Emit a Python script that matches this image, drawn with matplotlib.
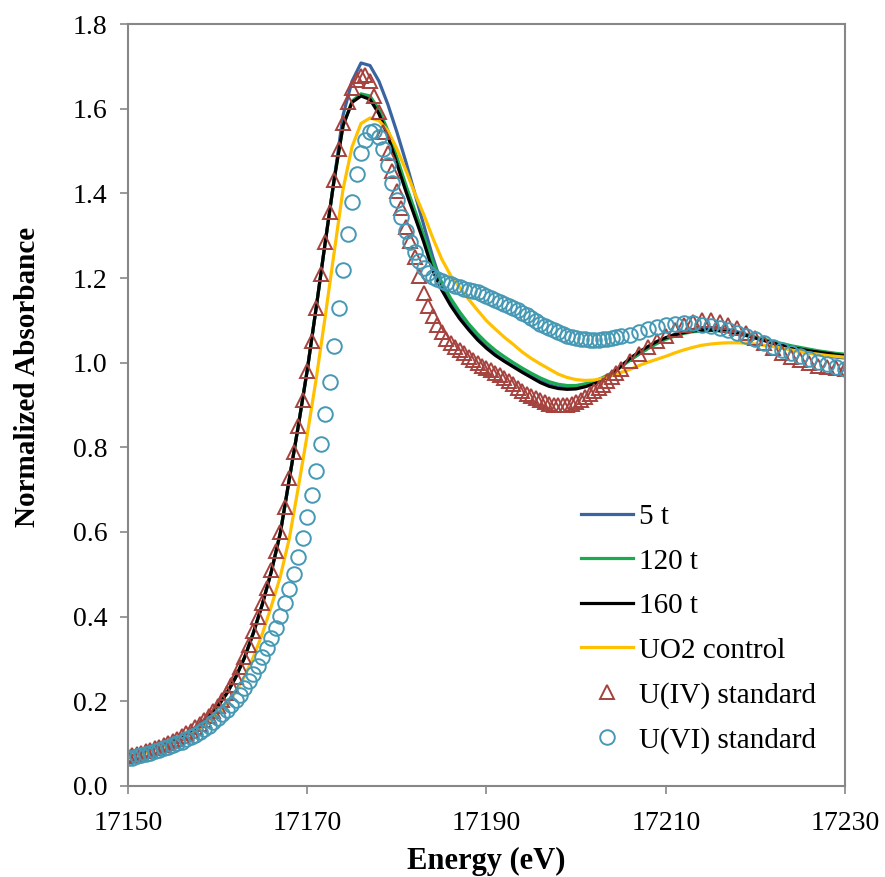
import numpy as np
import matplotlib
matplotlib.use("Agg")
import matplotlib.pyplot as plt

plt.rcParams['font.family'] = ['Liberation Serif', 'DejaVu Serif']

# energy grids (eV)
energy_lines = np.arange(17150, 17231, 1)
energy_std = np.concatenate([np.arange(17150, 17205.1, 0.5), np.arange(17206, 17231, 1)])

# samples, 1 eV grid
t5 = [0.068, 0.074, 0.080, 0.087, 0.095, 0.105, 0.116, 0.129, 0.145, 0.164,
      0.188, 0.218, 0.256, 0.303, 0.362, 0.430, 0.507, 0.598, 0.725, 0.850,
      0.982, 1.130, 1.283, 1.432, 1.585, 1.665, 1.708, 1.702, 1.665, 1.610,
      1.545, 1.475, 1.400, 1.325, 1.250, 1.185, 1.142, 1.110, 1.083, 1.059,
      1.038, 1.020, 1.005, 0.992, 0.980, 0.968, 0.957, 0.948, 0.942, 0.940,
      0.941, 0.945, 0.952, 0.962, 0.974, 0.990, 1.006, 1.020, 1.034, 1.047,
      1.058, 1.067, 1.073, 1.078, 1.081, 1.082, 1.081, 1.078, 1.073, 1.067,
      1.060, 1.053, 1.046, 1.039, 1.033, 1.028, 1.023, 1.019, 1.016, 1.013,
      1.011]
t120 = [0.068, 0.074, 0.080, 0.087, 0.095, 0.105, 0.116, 0.129, 0.145, 0.164,
        0.188, 0.218, 0.256, 0.303, 0.362, 0.430, 0.507, 0.598, 0.725, 0.850,
        0.982, 1.130, 1.283, 1.432, 1.560, 1.618, 1.635, 1.630, 1.598, 1.548,
        1.485, 1.420, 1.360, 1.300, 1.238, 1.190, 1.152, 1.120, 1.092, 1.068,
        1.047, 1.029, 1.014, 1.000, 0.987, 0.975, 0.964, 0.955, 0.949, 0.946,
        0.946, 0.950, 0.956, 0.965, 0.976, 0.991, 1.006, 1.020, 1.033, 1.045,
        1.055, 1.063, 1.069, 1.073, 1.075, 1.076, 1.075, 1.073, 1.069, 1.065,
        1.060, 1.055, 1.050, 1.045, 1.040, 1.036, 1.032, 1.028, 1.025, 1.022,
        1.020]
t160 = [0.068, 0.074, 0.080, 0.087, 0.095, 0.105, 0.116, 0.129, 0.145, 0.164,
        0.188, 0.218, 0.256, 0.303, 0.362, 0.430, 0.507, 0.598, 0.725, 0.850,
        0.982, 1.130, 1.283, 1.432, 1.560, 1.615, 1.630, 1.622, 1.588, 1.535,
        1.470, 1.405, 1.345, 1.285, 1.218, 1.172, 1.135, 1.104, 1.078, 1.054,
        1.034, 1.017, 1.003, 0.990, 0.977, 0.965, 0.953, 0.944, 0.939, 0.937,
        0.938, 0.943, 0.950, 0.960, 0.972, 0.992, 1.010, 1.025, 1.038, 1.050,
        1.059, 1.066, 1.071, 1.075, 1.077, 1.077, 1.076, 1.073, 1.069, 1.064,
        1.058, 1.052, 1.046, 1.041, 1.036, 1.032, 1.028, 1.025, 1.022, 1.019,
        1.016]
uo2_control = [0.068, 0.073, 0.079, 0.085, 0.092, 0.100, 0.110, 0.121, 0.134, 0.150,
               0.170, 0.193, 0.222, 0.258, 0.305, 0.360, 0.425, 0.495, 0.585, 0.705,
               0.830, 0.962, 1.108, 1.260, 1.410, 1.510, 1.565, 1.578, 1.572, 1.548,
               1.505, 1.455, 1.400, 1.350, 1.295, 1.245, 1.206, 1.178, 1.150, 1.124,
               1.099, 1.079, 1.060, 1.043, 1.025, 1.010, 0.997, 0.985, 0.973, 0.965,
               0.960, 0.958, 0.959, 0.963, 0.970, 0.977, 0.984, 0.993, 1.001, 1.008,
               1.015, 1.023, 1.030, 1.036, 1.041, 1.044, 1.046, 1.047, 1.047, 1.046,
               1.044, 1.041, 1.038, 1.034, 1.030, 1.026, 1.023, 1.020, 1.017, 1.015,
               1.013]

# standards, 0.5 eV grid up to 17205 then 1 eV
u4_std = [0.070, 0.073, 0.076, 0.079, 0.082, 0.086, 0.089, 0.093, 0.097, 0.102,
          0.107, 0.112, 0.118, 0.124, 0.131, 0.139, 0.147, 0.156, 0.166, 0.177,
          0.190, 0.204, 0.220, 0.238, 0.258, 0.280, 0.305, 0.334, 0.365, 0.400,
          0.432, 0.468, 0.510, 0.555, 0.600, 0.660, 0.727, 0.790, 0.850, 0.912,
          0.980, 1.052, 1.130, 1.210, 1.285, 1.357, 1.432, 1.505, 1.567, 1.615,
          1.648, 1.668, 1.678, 1.680, 1.665, 1.630, 1.592, 1.545, 1.495, 1.452,
          1.405, 1.365, 1.320, 1.288, 1.250, 1.205, 1.165, 1.135, 1.110, 1.089,
          1.072, 1.057, 1.046, 1.037, 1.030, 1.022, 1.014, 1.006, 0.999, 0.993,
          0.987, 0.982, 0.976, 0.970, 0.963, 0.956, 0.949, 0.941, 0.934, 0.927,
          0.921, 0.916, 0.911, 0.907, 0.903, 0.901, 0.899, 0.899, 0.900, 0.903,
          0.907, 0.912, 0.918, 0.925, 0.932, 0.940, 0.948, 0.957, 0.966, 0.975,
          0.985,
          1.004, 1.020, 1.036, 1.051, 1.064, 1.077, 1.089, 1.097, 1.101, 1.101,
          1.097, 1.090, 1.081, 1.071, 1.058, 1.046, 1.034, 1.024, 1.014, 1.006,
          0.999, 0.993, 0.989, 0.987, 0.985]
u6_std = [0.065, 0.067, 0.070, 0.073, 0.076, 0.079, 0.082, 0.086, 0.089, 0.093,
          0.097, 0.101, 0.105, 0.110, 0.115, 0.121, 0.127, 0.134, 0.142, 0.151,
          0.160, 0.170, 0.180, 0.191, 0.203, 0.216, 0.231, 0.247, 0.264, 0.283,
          0.304, 0.326, 0.349, 0.374, 0.401, 0.432, 0.465, 0.500, 0.540, 0.585,
          0.635, 0.688, 0.745, 0.808, 0.878, 0.955, 1.040, 1.130, 1.220, 1.305,
          1.380, 1.445, 1.495, 1.527, 1.545, 1.548, 1.532, 1.505, 1.466, 1.425,
          1.385, 1.345, 1.310, 1.285, 1.262, 1.240, 1.224, 1.212, 1.203, 1.197,
          1.192, 1.188, 1.185, 1.181, 1.178, 1.175, 1.172, 1.169, 1.166, 1.162,
          1.157, 1.152, 1.148, 1.144, 1.139, 1.135, 1.130, 1.124, 1.118, 1.112,
          1.105, 1.098, 1.092, 1.087, 1.082, 1.076, 1.072, 1.068, 1.064, 1.061,
          1.059, 1.057, 1.055, 1.054, 1.054, 1.054, 1.055, 1.056, 1.058, 1.060,
          1.062,
          1.066, 1.072, 1.079, 1.085, 1.089, 1.092, 1.093, 1.093, 1.090, 1.087,
          1.083, 1.077, 1.071, 1.063, 1.055, 1.046, 1.038, 1.030, 1.022, 1.015,
          1.008, 1.002, 0.996, 0.990, 0.985]

fig = plt.figure(figsize=(8.85, 8.77), dpi=100)
ax = fig.add_axes([0.1446, 0.1038, 0.8102, 0.8688])

ax.plot(energy_lines, t5, color='#3A64A0', lw=2.3, label='5 t')
ax.plot(energy_lines, t120, color='#1BAA50', lw=2.3, label='120 t')
ax.plot(energy_lines, t160, color='black', lw=2.3, label='160 t')
ax.plot(energy_lines, uo2_control, color='#FFC000', lw=2.3, label='UO2 control')
ax.plot(energy_std, u4_std, ls='none', marker='^', ms=10.5, mfc='none',
        mec='#A5423E', mew=1.4, label='U(IV) standard')
ax.plot(energy_std, u6_std, ls='none', marker='o', ms=10.5, mfc='none',
        mec='#4699B5', mew=1.4, label='U(VI) standard')

ax.set_xlim(17150, 17230)
ax.set_ylim(0, 1.8)
ax.set_xticks([17150, 17170, 17190, 17210, 17230])
ax.set_yticks(np.arange(0, 1.81, 0.2))
ax.set_yticklabels([f'{v:.1f}' for v in np.arange(0, 1.81, 0.2)])

for s in ax.spines.values():
    s.set_color('#878787')
    s.set_linewidth(1.5)
ax.tick_params(direction='out', length=6, width=1.2, color='#878787',
               labelsize=20, pad=9)
ax.tick_params(axis='x', pad=12)

ax.set_xlabel('Energy (eV)', fontsize=22, fontweight='bold', labelpad=8)
ax.set_ylabel('Normalized Absorbance', fontsize=21, fontweight='bold')
ax.yaxis.set_label_coords(-0.121, 0.537)

ax.legend(loc='lower right', bbox_to_anchor=(0.996, 0.008), frameon=False,
          fontsize=21, handlelength=1.8, handletextpad=0.2,
          labelspacing=0.62, numpoints=1)

fig.savefig('out.png', dpi=100)
